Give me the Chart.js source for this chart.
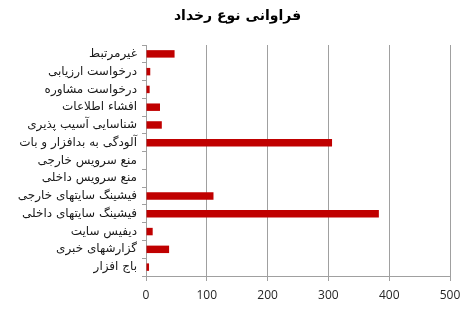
<!DOCTYPE html>
<html>
<head>
<meta charset="utf-8">
<script src="https://cdn.jsdelivr.net/npm/chart.js@4"></script>
<style>
  html, body { margin: 0; padding: 0; background: #ffffff; }
  #wrap { width: 468px; height: 311px; }
</style>
</head>
<body>
<div id="wrap"><canvas id="c" width="468" height="311"></canvas></div>
<script>
// Incident types, top to bottom
const categories = [
  'غیرمرتبط',
  'درخواست ارزیابی',
  'درخواست مشاوره',
  'افشاء اطلاعات',
  'شناسایی آسیب پذیری',
  'آلودگی به بدافزار و بات',
  'منع سرویس خارجی',
  'منع سرویس داخلی',
  'فیشینگ سایتهای خارجی',
  'فیشینگ سایتهای داخلی',
  'دیفیس سایت',
  'گزارشهای خبری',
  'باج افزار'
];
// Number of incidents per type
const counts = [47, 7, 6, 23, 26, 306, 0, 0, 111, 383, 11, 38, 5];
// Value axis ticks
const xTicks = [0, 100, 200, 300, 400, 500];

const gray = '#a0a0a0';

// Center the title over the whole canvas rather than the padded layout box
const titleSpan = {
  id: 'titleSpan',
  afterLayout(chart) {
    if (chart.titleBlock) {
      chart.titleBlock.left = 7;
      chart.titleBlock.right = chart.width;
    }
  }
};

new Chart(document.getElementById('c'), {
  type: 'bar',
  data: {
    labels: categories,
    datasets: [{
      data: counts,
      backgroundColor: '#c00000',
      borderWidth: 0,
      barPercentage: 0.42,
      categoryPercentage: 1
    }]
  },
  plugins: [titleSpan],
  options: {
    indexAxis: 'y',
    responsive: false,
    animation: false,
    layout: { padding: { left: 0, right: 18, top: 0, bottom: 0 } },
    plugins: {
      legend: { display: false },
      tooltip: { enabled: false },
      title: {
        display: true,
        text: 'فراوانی نوع رخداد',
        color: '#000000',
        font: { family: 'DejaVu Sans', size: 14, weight: 'bold', lineHeight: 1.2 },
        padding: { top: 8, bottom: 20.2 }
      }
    },
    scales: {
      x: {
        min: xTicks[0],
        max: xTicks[xTicks.length - 1],
        afterBuildTicks: (s) => { s.ticks = xTicks.map(v => ({ value: v })); },
        afterFit: (s) => { s.height = 35; },
        ticks: {
          color: '#262626',
          font: { family: 'Open Sans', size: 12 },
          padding: 7
        },
        grid: { color: gray, lineWidth: 1, tickLength: 5, drawTicks: true },
        border: { color: gray, width: 1 }
      },
      y: {
        afterFit: (s) => { s.width = 146; },
        ticks: {
          color: '#1a1a1a',
          font: { family: 'DejaVu Sans', size: 12 },
          padding: 5,
          autoSkip: false
        },
        grid: { drawOnChartArea: false, color: gray, tickLength: 4, offset: true },
        border: { color: gray, width: 1 }
      }
    }
  }
});
</script>
</body>
</html>
